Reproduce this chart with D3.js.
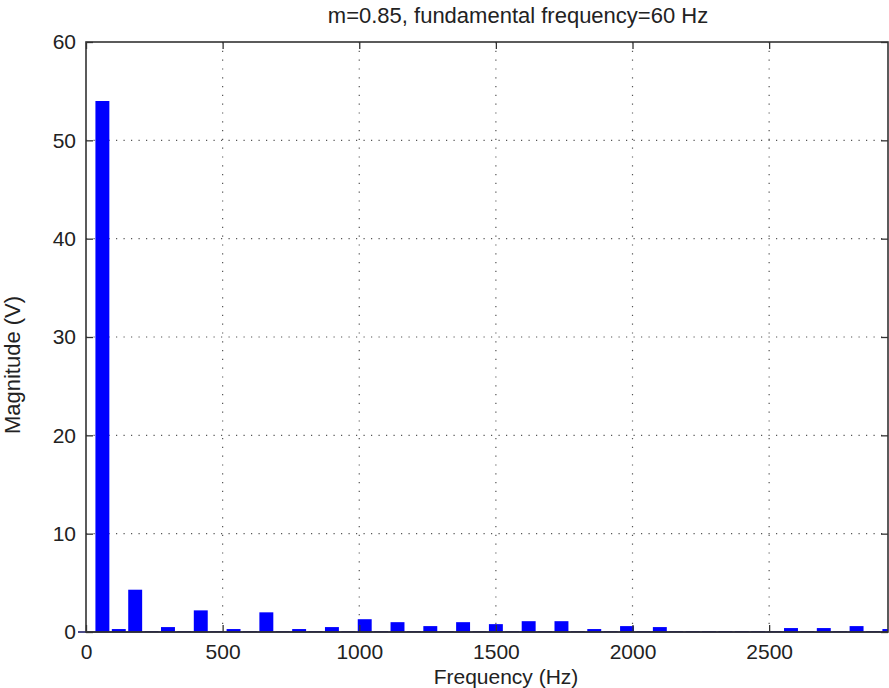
<!DOCTYPE html>
<html>
<head>
<meta charset="utf-8">
<script src="https://cdn.jsdelivr.net/npm/d3@7/dist/d3.min.js"></script>
<style>
  html, body { margin: 0; padding: 0; background: #fff; }
  svg { display: block; }
  text { font-family: "Liberation Sans", Arial, Helvetica, sans-serif; fill: #222; }
</style>
</head>
<body>
<svg id="chart" width="889" height="688"></svg>
<script>
// Harmonic spectrum of the output voltage
const titleText = "m=0.85, fundamental frequency=60 Hz";
const xLabel = "Frequency (Hz)";
const yLabel = "Magnitude (V)";

const harmonicFreqs = [
  60, 120, 180, 240, 300, 360, 420, 480, 540, 600,
  660, 720, 780, 840, 900, 960, 1020, 1080, 1140, 1200,
  1260, 1320, 1380, 1440, 1500, 1560, 1620, 1680, 1740, 1800,
  1860, 1920, 1980, 2040, 2100, 2160, 2220, 2280, 2340, 2400,
  2460, 2520, 2580, 2640, 2700, 2760, 2820, 2880, 2940
];
const magnitudes = [
  54.0, 0.3, 4.3, 0.1, 0.5, 0.1, 2.2, 0.1, 0.3, 0.1,
  2.0, 0.1, 0.3, 0.1, 0.5, 0.1, 1.3, 0.1, 1.0, 0.1,
  0.6, 0.1, 1.0, 0.1, 0.8, 0.1, 1.1, 0.1, 1.1, 0.1,
  0.3, 0.1, 0.6, 0.1, 0.5, 0.1, 0.1, 0.1, 0.1, 0.1,
  0.1, 0.1, 0.4, 0.1, 0.4, 0.1, 0.6, 0.1, 0.3
];
const xTicks = [0, 500, 1000, 1500, 2000, 2500];
const yTicks = [0, 10, 20, 30, 40, 50, 60];
const xDomain = [0, 2935];
const yDomain = [0, 60];
const barWidthHz = 51;

const svg = d3.select("#chart");
const plotL = 86, plotR = 888, plotT = 42, plotB = 632;
const fontSize = 21;

const x = d3.scaleLinear().domain(xDomain).range([plotL, plotR]);
const y = d3.scaleLinear().domain(yDomain).range([plotB, plotT]);

// grid lines
const grid = svg.append("g").attr("stroke", "#555").attr("stroke-width", 1.2);
grid.selectAll("line.vg").data(xTicks.filter(t => t > 0)).enter().append("line")
  .attr("x1", d => x(d)).attr("x2", d => x(d))
  .attr("y1", plotT).attr("y2", plotB)
  .attr("stroke-dasharray", "1.2,7.6");
grid.selectAll("line.hg").data(yTicks.filter(t => t > 0 && t < 60)).enter().append("line")
  .attr("x1", plotL).attr("x2", plotR)
  .attr("y1", d => y(d)).attr("y2", d => y(d))
  .attr("stroke-dasharray", "1.2,6.3");

// bars, clipped to the axes box
svg.append("clipPath").attr("id", "plotclip")
  .append("rect").attr("x", plotL).attr("y", plotT).attr("width", plotR - plotL).attr("height", plotB - plotT);

const plot = svg.append("g").attr("clip-path", "url(#plotclip)");
plot.selectAll("rect.bar").data(harmonicFreqs).enter().append("rect")
  .attr("class", "bar")
  .attr("x", d => x(d - barWidthHz / 2))
  .attr("width", d => x(d + barWidthHz / 2) - x(d - barWidthHz / 2))
  .attr("y", (d, i) => y(magnitudes[i]))
  .attr("height", (d, i) => y(0) - y(magnitudes[i]))
  .attr("fill", "#0000ff");

// bar baseline
svg.append("line")
  .attr("x1", plotL - 8).attr("x2", plotR)
  .attr("y1", y(0)).attr("y2", y(0))
  .attr("stroke", "#101060").attr("stroke-width", 1.5);

// axes with inward ticks, boxed
const axisColor = "#333";
const xAxisB = d3.axisBottom(x).tickValues(xTicks).tickSize(-7).tickPadding(12).tickFormat(d3.format("d"));
const xAxisT = d3.axisTop(x).tickValues(xTicks).tickSize(-7).tickFormat("");
const yAxisL = d3.axisLeft(y).tickValues(yTicks).tickSize(-7).tickPadding(10).tickFormat(d3.format("d"));
const yAxisR = d3.axisRight(y).tickValues(yTicks).tickSize(-7).tickFormat("");

function styleAxis(g) {
  g.select(".domain").remove();
  g.selectAll(".tick line").attr("stroke", axisColor).attr("stroke-width", 1.3);
  g.selectAll(".tick text").attr("font-size", fontSize).attr("fill", "#222")
    .attr("font-family", "'Liberation Sans', Arial, Helvetica, sans-serif");
}
svg.append("g").attr("transform", `translate(0,${plotB})`).call(xAxisB).call(styleAxis);
svg.append("g").attr("transform", `translate(0,${plotT})`).call(xAxisT).call(styleAxis);
svg.append("g").attr("transform", `translate(${plotL},0)`).call(yAxisL).call(styleAxis);
svg.append("g").attr("transform", `translate(${plotR},0)`).call(yAxisR).call(styleAxis);

// box
svg.append("rect")
  .attr("x", plotL).attr("y", plotT).attr("width", plotR - plotL).attr("height", plotB - plotT)
  .attr("fill", "none").attr("stroke", axisColor).attr("stroke-width", 1.6);

// labels
svg.append("text").attr("x", 518).attr("y", 23).attr("text-anchor", "middle")
  .attr("font-size", 22).text(titleText);
svg.append("text").attr("x", 506).attr("y", 684).attr("text-anchor", "middle")
  .attr("font-size", fontSize).text(xLabel);
svg.append("text").attr("transform", "translate(20,365) rotate(-90)").attr("text-anchor", "middle")
  .attr("font-size", 22).text(yLabel);
</script>
</body>
</html>
